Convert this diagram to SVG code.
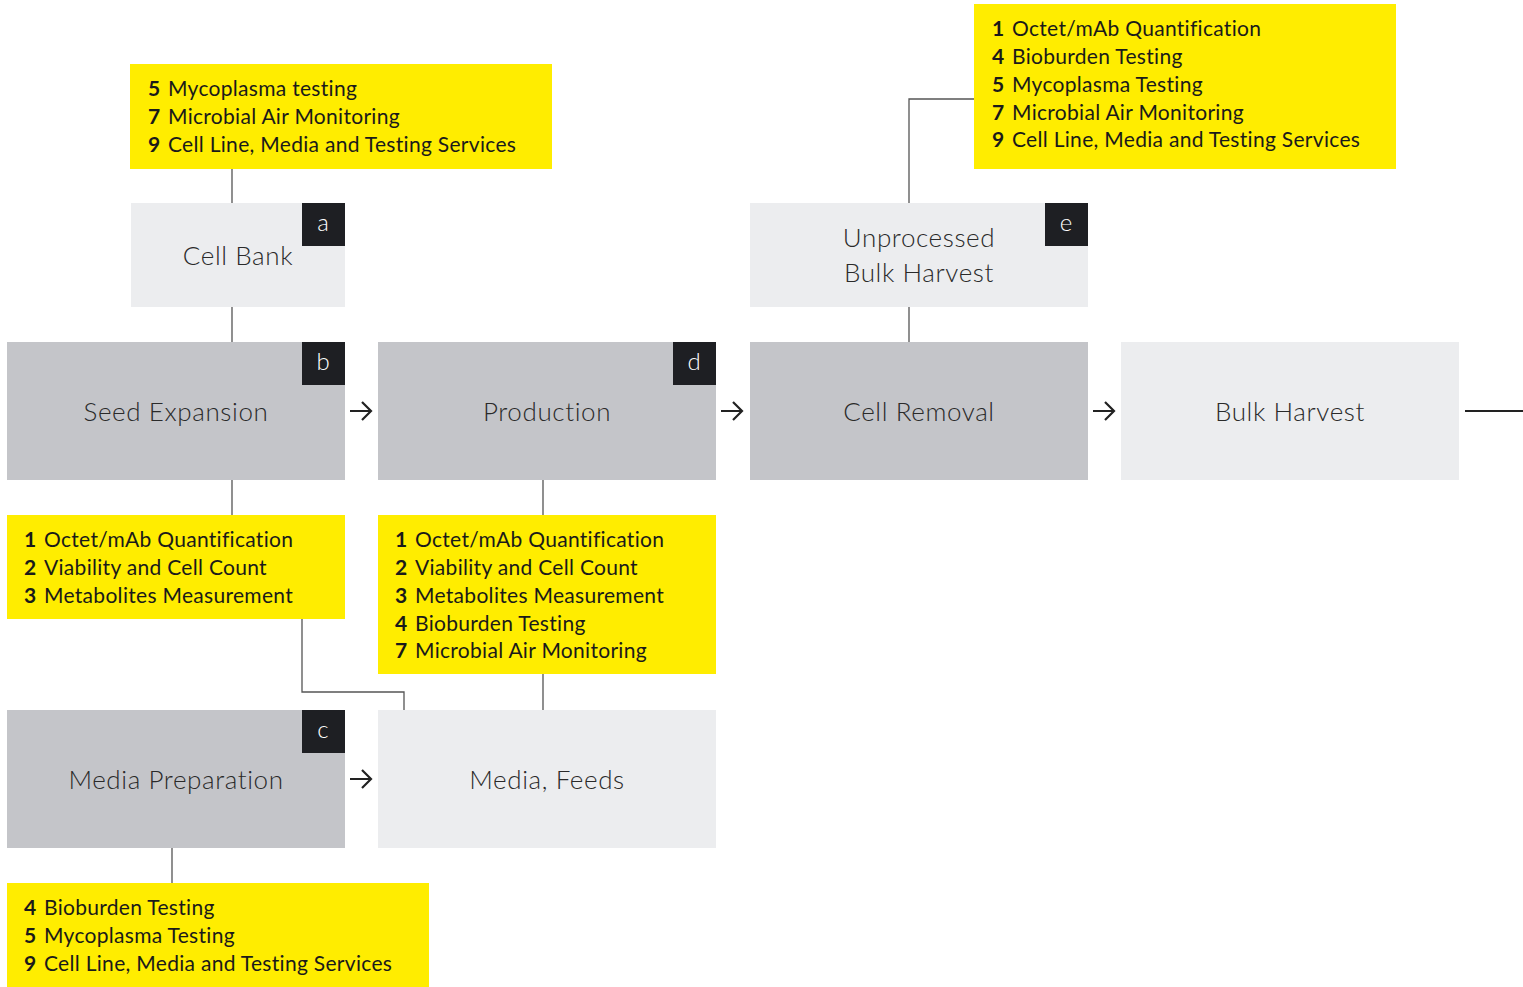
<svg xmlns="http://www.w3.org/2000/svg" width="1523" height="987" viewBox="0 0 1523 987">
<style>
.y{fill:#FFED00}
.d{fill:#C4C5C9}
.l{fill:#ECEDEF}
.b{fill:#1E1F23}
.bt{font-family:Lato,"Liberation Sans",sans-serif;font-weight:300;font-size:24px;fill:#fff;text-anchor:middle}
.nt{font-family:Lato,"Liberation Sans",sans-serif;font-weight:300;font-size:26px;letter-spacing:0.6px;fill:#2a2a2a;text-anchor:middle}
.yt{font-family:Lato,"Liberation Sans",sans-serif;font-size:21px;letter-spacing:0.3px;fill:#1a1a1a}
.n{font-weight:700}
.c{stroke:#555;stroke-width:1.3;fill:none}
.a{stroke:#222;stroke-width:2.2;fill:none}
</style>
<rect width="1523" height="987" fill="#fff"/>
<g id="connectors">
<path class="c" d="M232 169V203M232 307V342M232 480V515M543 480V515M543 674V710M302 619V692H404V710M172 848V883M909 203V99H974M909 307V342"/>
<path class="a" d="M1465 411H1523"/>
<path class="a" d="M350 411H371M362 402L371 411L362 420"/>
<path class="a" d="M721 411H742M733 402L742 411L733 420"/>
<path class="a" d="M1093 411H1114M1105 402L1114 411L1105 420"/>
<path class="a" d="M350 779H371M362 770L371 779L362 788"/>
</g>
<g id="tests-a">
<rect class="y" x="130" y="64" width="422" height="105"/>
<text class="yt" y="96"><tspan class="n" x="148">5</tspan><tspan x="168">Mycoplasma testing</tspan></text>
<text class="yt" y="124"><tspan class="n" x="148">7</tspan><tspan x="168">Microbial Air Monitoring</tspan></text>
<text class="yt" y="152"><tspan class="n" x="148">9</tspan><tspan x="168">Cell Line, Media and Testing Services</tspan></text>
</g>
<g id="cell-bank">
<rect class="l" x="131" y="203" width="214" height="104"/>
<rect class="b" x="302" y="203" width="43" height="43"/>
<text class="bt" x="323" y="231">a</text>
<text class="nt" x="238" y="265">Cell Bank</text>
</g>
<g id="tests-e">
<rect class="y" x="974" y="4" width="422" height="165"/>
<text class="yt" y="36"><tspan class="n" x="992">1</tspan><tspan x="1012">Octet/mAb Quantification</tspan></text>
<text class="yt" y="64"><tspan class="n" x="992">4</tspan><tspan x="1012">Bioburden Testing</tspan></text>
<text class="yt" y="92"><tspan class="n" x="992">5</tspan><tspan x="1012">Mycoplasma Testing</tspan></text>
<text class="yt" y="120"><tspan class="n" x="992">7</tspan><tspan x="1012">Microbial Air Monitoring</tspan></text>
<text class="yt" y="147"><tspan class="n" x="992">9</tspan><tspan x="1012">Cell Line, Media and Testing Services</tspan></text>
</g>
<g id="unprocessed">
<rect class="l" x="750" y="203" width="338" height="104"/>
<rect class="b" x="1045" y="203" width="43" height="43"/>
<text class="bt" x="1066" y="231">e</text>
<text class="nt" x="919" y="247">Unprocessed</text>
<text class="nt" x="919" y="282">Bulk Harvest</text>
</g>
<g id="seed-expansion">
<rect class="d" x="7" y="342" width="338" height="138"/>
<rect class="b" x="302" y="342" width="43" height="43"/>
<text class="bt" x="323" y="370">b</text>
<text class="nt" x="176" y="421">Seed Expansion</text>
</g>
<g id="production">
<rect class="d" x="378" y="342" width="338" height="138"/>
<rect class="b" x="673" y="342" width="43" height="43"/>
<text class="bt" x="694" y="370">d</text>
<text class="nt" x="547" y="421">Production</text>
</g>
<g id="cell-removal">
<rect class="d" x="750" y="342" width="338" height="138"/>
<text class="nt" x="919" y="421">Cell Removal</text>
</g>
<g id="bulk-harvest">
<rect class="l" x="1121" y="342" width="338" height="138"/>
<text class="nt" x="1290" y="421">Bulk Harvest</text>
</g>
<g id="tests-b">
<rect class="y" x="7" y="515" width="338" height="104"/>
<text class="yt" y="547"><tspan class="n" x="24">1</tspan><tspan x="44">Octet/mAb Quantification</tspan></text>
<text class="yt" y="575"><tspan class="n" x="24">2</tspan><tspan x="44">Viability and Cell Count</tspan></text>
<text class="yt" y="603"><tspan class="n" x="24">3</tspan><tspan x="44">Metabolites Measurement</tspan></text>
</g>
<g id="tests-d">
<rect class="y" x="378" y="515" width="338" height="159"/>
<text class="yt" y="547"><tspan class="n" x="395">1</tspan><tspan x="415">Octet/mAb Quantification</tspan></text>
<text class="yt" y="575"><tspan class="n" x="395">2</tspan><tspan x="415">Viability and Cell Count</tspan></text>
<text class="yt" y="603"><tspan class="n" x="395">3</tspan><tspan x="415">Metabolites Measurement</tspan></text>
<text class="yt" y="631"><tspan class="n" x="395">4</tspan><tspan x="415">Bioburden Testing</tspan></text>
<text class="yt" y="658"><tspan class="n" x="395">7</tspan><tspan x="415">Microbial Air Monitoring</tspan></text>
</g>
<g id="media-preparation">
<rect class="d" x="7" y="710" width="338" height="138"/>
<rect class="b" x="302" y="710" width="43" height="43"/>
<text class="bt" x="323" y="738">c</text>
<text class="nt" x="176" y="789">Media Preparation</text>
</g>
<g id="media-feeds">
<rect class="l" x="378" y="710" width="338" height="138"/>
<text class="nt" x="547" y="789">Media, Feeds</text>
</g>
<g id="tests-c">
<rect class="y" x="7" y="883" width="422" height="104"/>
<text class="yt" y="915"><tspan class="n" x="24">4</tspan><tspan x="44">Bioburden Testing</tspan></text>
<text class="yt" y="943"><tspan class="n" x="24">5</tspan><tspan x="44">Mycoplasma Testing</tspan></text>
<text class="yt" y="971"><tspan class="n" x="24">9</tspan><tspan x="44">Cell Line, Media and Testing Services</tspan></text>
</g>
</svg>
